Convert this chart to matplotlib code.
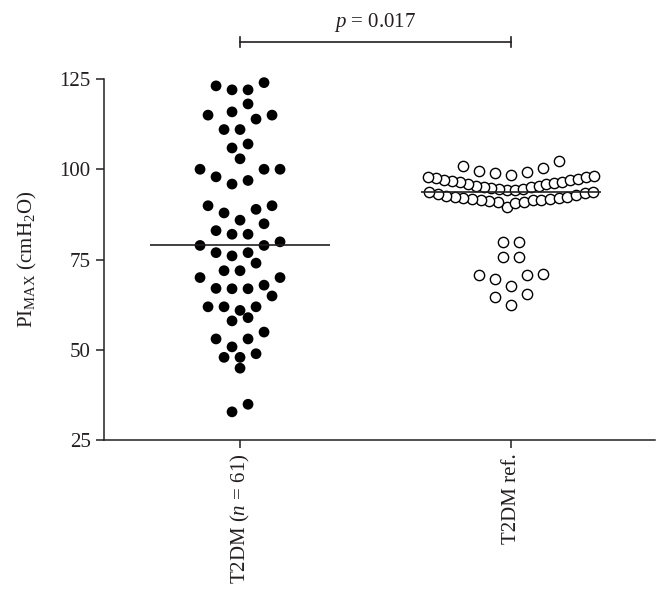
import numpy as np
import matplotlib
matplotlib.use("Agg")
import matplotlib.pyplot as plt

# PImax values (cmH2O)
t2dm = [124.0, 122.0, 122.0, 123.1, 118.1, 115.0, 115.9, 113.9, 115.0, 111.0,
        111.0, 107.0, 105.9, 102.9, 100.0, 100.0, 100.0, 96.9, 95.9, 97.9,
        89.9, 87.9, 88.9, 89.9, 84.9, 85.9, 82.0, 82.0, 83.0, 78.9,
        78.9, 79.9, 76.9, 76.0, 76.9, 74.0, 71.9, 71.9, 70.0, 70.0,
        67.9, 66.9, 66.9, 67.0, 64.9, 61.9, 61.9, 61.9, 60.9, 58.9,
        58.0, 54.9, 53.0, 53.0, 50.8, 48.9, 47.9, 47.9, 44.9, 34.9,
        32.8]

t2dm_ref = [98.5, 98.9, 99.3, 99.6, 100.3, 100.9, 102.4,
            94.2, 94.3, 94.5, 94.6, 94.9, 95.0, 95.2, 95.4, 95.5, 95.8, 95.9,
            96.1, 96.4, 96.5, 96.7, 97.0, 97.1, 97.4, 97.5, 97.8, 97.9, 98.1,
            89.6, 90.7, 90.9, 91.0, 91.3, 91.4, 91.5, 91.6, 91.8, 91.9,
            92.0, 92.1, 92.3, 92.4, 92.7, 92.9, 93.1, 93.5, 93.6, 93.8,
            79.9, 79.9, 75.6, 75.6, 71.0, 70.7, 70.7, 69.5, 67.8,
            65.4, 64.7, 62.5]

groups = ["T2DM ($n$ = 61)", "T2DM ref."]
p_text = "$p$ = 0.017"
ylabel = r"PI$_{\mathrm{MAX}}$ (cmH$_2$O)"

plt.rcParams["font.family"] = ["Liberation Serif", "DejaVu Serif"]
plt.rcParams["mathtext.fontset"] = "custom"
plt.rcParams["mathtext.rm"] = "Liberation Serif"
plt.rcParams["mathtext.it"] = "Liberation Serif:italic"

ink = "#231f20"
fs = 15


def prism_offsets(values, px_per_unit, bin_h=4.5, origin=3.9, step_px=16, max_w_px=173):
    # Prism-like column scatter: bin into rows, spread each row centre-out
    vals = np.asarray(values, dtype=float)
    rows = np.floor((vals - origin) / bin_h)
    offs = np.zeros(len(vals))
    for r in np.unique(rows):
        idx = np.where(rows == r)[0]
        idx = idx[np.argsort(vals[idx], kind="stable")]
        n = len(idx)
        s = min(step_px, max_w_px / n)
        pos = (np.arange(n) - (n - 1) / 2) * s
        order = np.lexsort((pos, np.abs(pos)))
        offs[idx] = pos[order] / px_per_unit
    return offs


fig = plt.figure(figsize=(6.59, 6.06), dpi=100)
ax = fig.add_axes([0.1578, 0.2739, 0.8361, 0.5957])
ax.set_xlim(-0.502, 1.531)
ax.set_ylim(25, 125)

ppu = ax.transData.transform((1, 0))[0] - ax.transData.transform((0, 0))[0]

x0 = 0 + prism_offsets(t2dm, ppu, bin_h=5.0, origin=0.5)
ax.scatter(x0, t2dm, s=60, color="black", edgecolors="none", clip_on=False, zorder=3)
x1 = 1 + prism_offsets(t2dm_ref, ppu)
ax.scatter(x1, t2dm_ref, s=55, facecolors="white", edgecolors="black",
           linewidths=1.0, clip_on=False, zorder=3)

# median lines
for i, vals in enumerate([t2dm, t2dm_ref]):
    ax.hlines(np.median(vals), i - 0.332, i + 0.332, color=ink, linewidth=1.2, zorder=4)

# significance bracket
yb, tk = 135.2, 1.4
ax.plot([0, 1], [yb, yb], color=ink, linewidth=1.2, clip_on=False)
ax.plot([0, 0], [yb - tk, yb + tk], color=ink, linewidth=1.2, clip_on=False)
ax.plot([1, 1], [yb - tk, yb + tk], color=ink, linewidth=1.2, clip_on=False)
ax.text(0.5, 139.3, p_text, ha="center", va="baseline", fontsize=fs, color=ink)

ax.set_xticks([0, 1])
ax.set_xticklabels(groups, rotation=90, fontsize=fs, color=ink)
ax.set_yticks([25, 50, 75, 100, 125])
ax.tick_params(axis="y", labelsize=fs, labelcolor=ink)
ax.tick_params(direction="out", length=6, width=1.1, color=ink)
ax.set_ylabel(ylabel, fontsize=fs, color=ink, labelpad=15)

for spine in ["top", "right"]:
    ax.spines[spine].set_visible(False)
for spine in ["left", "bottom"]:
    ax.spines[spine].set_color(ink)
    ax.spines[spine].set_linewidth(1.1)

fig.savefig("out.png", dpi=100, facecolor="white")
